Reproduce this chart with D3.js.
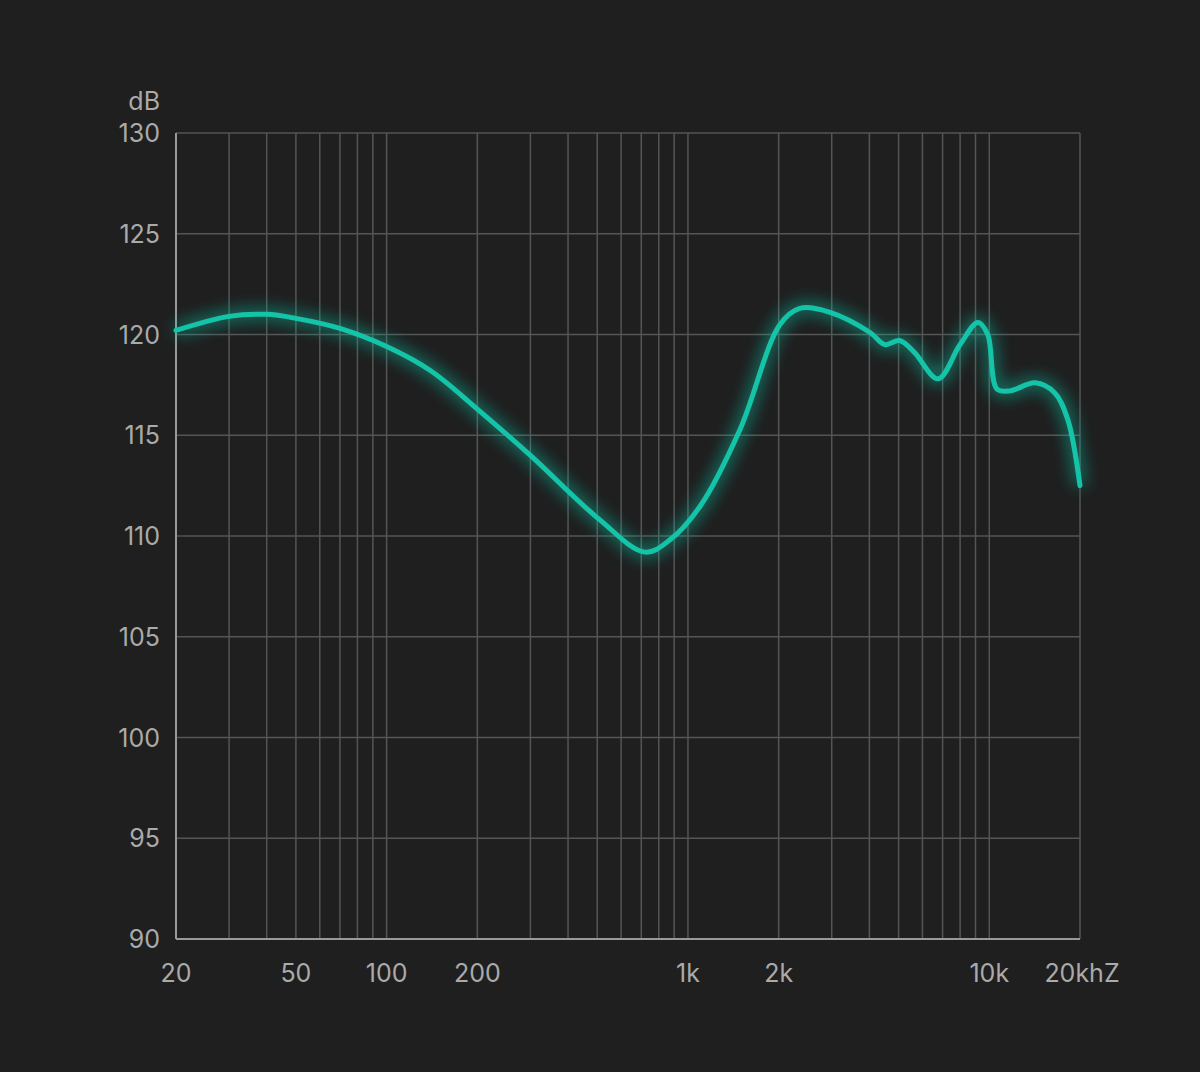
<!DOCTYPE html><html><head><meta charset="utf-8">
<script src="https://cdn.jsdelivr.net/npm/d3@7"></script>
<style>body{margin:0;background:#1f1f1f}</style></head><body><svg id="c" width="1200" height="1072"></svg>
<script>
const freqs=[20,30,40,50,70,100,140,200,300,510,720,870,1100,1490,2020,2350,2960,4020,4500,5040,5650,6760,8000,9170,9880,10600,11700,14200,16500,18200,20000];
const dbs=[120.2,120.9,121.0,120.8,120.3,119.4,118.2,116.3,114.0,110.8,109.2,109.8,111.5,115.3,120.5,121.3,121.1,120.1,119.5,119.7,119.1,117.8,119.5,120.6,120.0,117.3,117.2,117.6,117.1,115.8,112.5];
const gridFreqs=[20,30,40,50,60,70,80,90,100,200,300,400,500,600,700,800,900,1000,2000,3000,4000,5000,6000,7000,8000,9000,10000,20000];
const xTicks=[20,50,100,200,1000,2000,10000,20000];
const xLabels=["20","50","100","200","1k","2k","10k","20khZ"];
const yTicks=[90,95,100,105,110,115,120,125,130];
const svg=d3.select("#c");
svg.append("rect").attr("width",1200).attr("height",1072).attr("fill","#1f1f1f");
const x=d3.scaleLog().domain([20,20000]).range([176,1080]);
const y=d3.scaleLinear().domain([90,130]).range([939,133]);
const g=svg.append("g");
g.selectAll(".v").data(gridFreqs).join("line").attr("x1",d=>x(d)).attr("x2",d=>x(d)).attr("y1",133).attr("y2",939).attr("stroke","#555").attr("stroke-width",1.5);
g.selectAll(".h").data(yTicks).join("line").attr("x1",176).attr("x2",1080).attr("y1",d=>y(d)).attr("y2",d=>y(d)).attr("stroke","#555").attr("stroke-width",1.5);
g.append("line").attr("x1",176).attr("x2",176).attr("y1",133).attr("y2",939).attr("stroke","#999").attr("stroke-width",2);
g.append("line").attr("x1",176).attr("x2",1080).attr("y1",939).attr("y2",939).attr("stroke","#999").attr("stroke-width",2);
const font="Inter, 'Noto Sans', sans-serif";
g.selectAll(".yl").data(yTicks).join("text").attr("x",160).attr("y",d=>y(d)+9).attr("text-anchor","end").attr("fill","#aaa").attr("font-family",font).attr("font-size",25).text(d=>d);
g.append("text").attr("x",160).attr("y",110).attr("text-anchor","end").attr("fill","#aaa").attr("font-family",font).attr("font-size",25).text("dB");
g.selectAll(".xl").data(xTicks).join("text").attr("x",(d,i)=>i==7?1082:x(d)).attr("y",982).attr("text-anchor","middle").attr("fill","#aaa").attr("font-family",font).attr("font-size",25).text((d,i)=>xLabels[i]);
const defs=svg.append("defs");
defs.append("filter").attr("id","glow").attr("x","-10%").attr("y","-10%").attr("width","120%").attr("height","120%").append("feGaussianBlur").attr("stdDeviation",8);
const line=d3.line().x((d,i)=>x(freqs[i])).y(d=>y(d)).curve(d3.curveCatmullRom.alpha(0.5));
svg.append("path").attr("d",line(dbs)).attr("fill","none").attr("stroke","#10c2a6").attr("stroke-width",12).attr("opacity",0.55).attr("filter","url(#glow)");
svg.append("path").attr("d",line(dbs)).attr("fill","none").attr("stroke","#14c4a8").attr("stroke-width",5).attr("stroke-linecap","round");
</script></body></html>
